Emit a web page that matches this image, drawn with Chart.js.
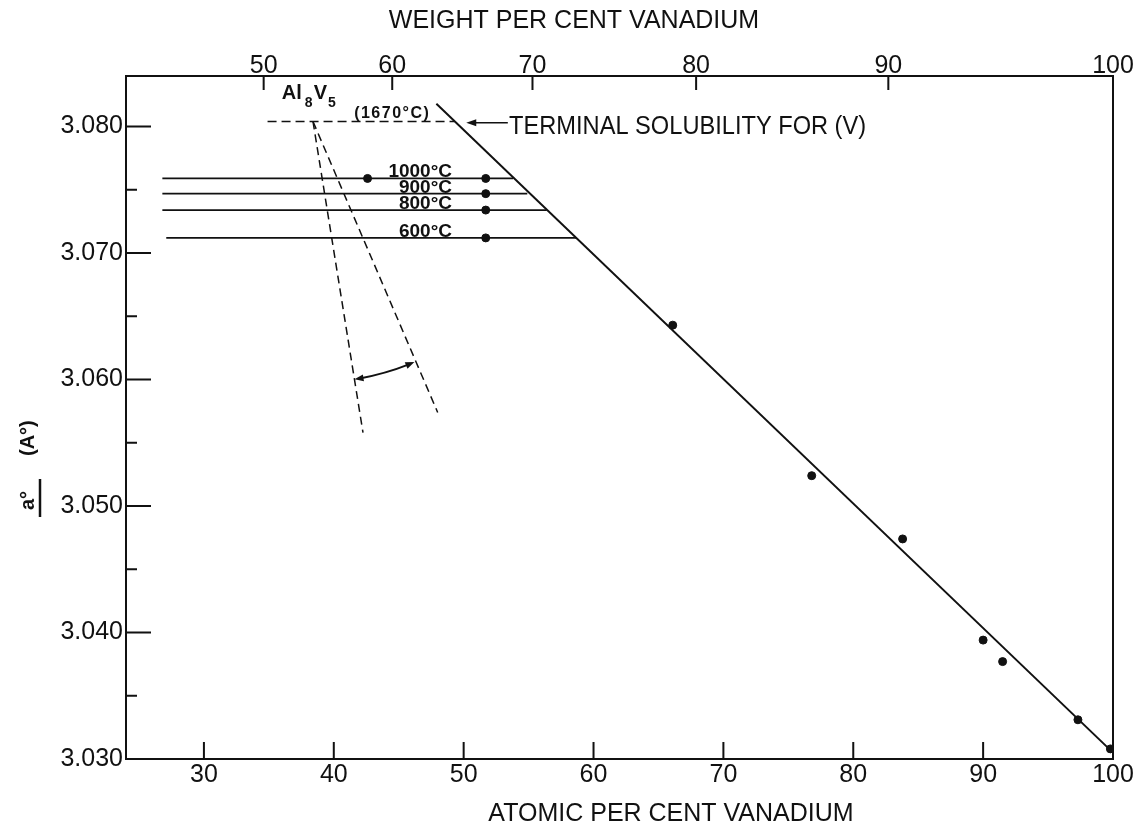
<!DOCTYPE html>
<html>
<head>
<meta charset="utf-8">
<script src="https://cdn.jsdelivr.net/npm/chart.js@4.4.1/dist/chart.umd.min.js"></script>
<style>
  html, body { margin: 0; padding: 0; background: #fff; }
  canvas { display: block; }
</style>
</head>
<body>
<canvas id="latticeChart" width="1134" height="831"></canvas>
<script>
// axes
const atomicTicks = [30, 40, 50, 60, 70, 80, 90, 100];
const weightTicks = [50, 60, 70, 80, 90, 100];
const weightTickAtomic = [34.6, 44.5, 55.3, 67.9, 82.7, 100]; // where each wt.% tick sits on the at.% scale
const latticeTicks = [3.030, 3.035, 3.040, 3.045, 3.050, 3.055, 3.060, 3.065, 3.070, 3.075, 3.080];

// measured lattice parameters
const measuredAtomic = [66.1, 76.8, 83.8, 90.0, 91.5, 97.3, 99.8];
const measuredLattice = [3.0643, 3.0524, 3.0474, 3.0394, 3.0377, 3.0331, 3.0308];

// fitted line
const fitAtomic = [47.9, 99.8];
const fitLattice = [3.0818, 3.0307];

// isotherms
const isoLabels = ["1000°C", "900°C", "800°C", "600°C"];
const isoLattice = [3.0759, 3.0747, 3.0734, 3.0712];
const isoStart = [26.8, 26.8, 26.8, 27.1];
const isoEnd = [53.8, 54.9, 56.4, 58.7];
const isoPoints = [[42.6, 51.7], [51.7], [51.7], [51.7]];

// 1670°C solubility and Al8V5 construction
const solidusLattice = 3.0804;
const solidusAtomic = [34.9, 49.3];
const al8v5Apex = [38.4, 3.0804];
const al8v5Ends = [[42.25, 3.0558], [48.0, 3.0574]];
const al8v5Arc = [[41.6, 3.0600], [46.2, 3.0614]];

const ink = "#111";
const fontFam = "'Liberation Sans', Arial, sans-serif";
const isMajor = v => Math.round(v * 1000) % 10 === 0;
const pts = (xs, ys) => xs.map((x, i) => ({ x: x, y: ys[i] }));

const datasets = [];
datasets.push({
  data: pts(fitAtomic, fitLattice),
  showLine: true, pointRadius: 0, borderColor: ink, borderWidth: 2
});
datasets.push({
  data: pts(measuredAtomic, measuredLattice),
  pointRadius: 4, pointBackgroundColor: ink, pointBorderColor: ink, showLine: false
});
isoLattice.forEach((y, i) => {
  datasets.push({
    data: [{ x: isoStart[i], y: y }, { x: isoEnd[i], y: y }],
    showLine: true, pointRadius: 0, borderColor: ink, borderWidth: 1.8
  });
  datasets.push({
    data: isoPoints[i].map(x => ({ x: x, y: y })),
    pointRadius: 4, pointBackgroundColor: ink, pointBorderColor: ink, showLine: false
  });
});
datasets.push({
  data: solidusAtomic.map(x => ({ x: x, y: solidusLattice })),
  showLine: true, pointRadius: 0, borderColor: ink, borderWidth: 1.5, borderDash: [9, 5]
});
al8v5Ends.forEach(e => {
  datasets.push({
    data: [{ x: al8v5Apex[0], y: al8v5Apex[1] }, { x: e[0], y: e[1] }],
    showLine: true, pointRadius: 0, borderColor: ink, borderWidth: 1.5, borderDash: [8, 5]
  });
});
datasets.forEach(d => { d.xAxisID = "x"; d.yAxisID = "y"; });

function arrowHead(ctx, tx, ty, dx, dy, len, half) {
  const n = Math.hypot(dx, dy); dx /= n; dy /= n;
  ctx.beginPath();
  ctx.moveTo(tx, ty);
  ctx.lineTo(tx - dx * len - dy * half, ty - dy * len + dx * half);
  ctx.lineTo(tx - dx * len + dy * half, ty - dy * len - dx * half);
  ctx.closePath();
  ctx.fill();
}

const frameAndNotes = {
  id: "frameAndNotes",
  afterDatasetsDraw(chart) {
    const { ctx, chartArea: a, scales } = chart;
    const P = (x, y) => [scales.x.getPixelForValue(x), scales.y.getPixelForValue(y)];
    ctx.save();
    ctx.strokeStyle = ink; ctx.fillStyle = ink;

    // frame
    ctx.lineWidth = 2;
    ctx.strokeRect(a.left, a.top, a.right - a.left, a.bottom - a.top);

    // inward tick marks
    ctx.beginPath();
    scales.y.ticks.forEach(t => {
      const yy = scales.y.getPixelForValue(t.value);
      ctx.moveTo(a.left, yy); ctx.lineTo(a.left + (isMajor(t.value) ? 25 : 11), yy);
    });
    scales.x.ticks.forEach(t => {
      const xx = scales.x.getPixelForValue(t.value);
      ctx.moveTo(xx, a.bottom); ctx.lineTo(xx, a.bottom - 17);
    });
    scales.x2.ticks.forEach(t => {
      const xx = scales.x2.getPixelForValue(t.value);
      ctx.moveTo(xx, a.top); ctx.lineTo(xx, a.top + 14);
    });
    ctx.stroke();

    // terminal solubility arrow
    const [t0x, t0y] = P(53.4, 3.0803);
    const [t1x, t1y] = P(50.2, 3.0803);
    ctx.lineWidth = 1.5;
    ctx.beginPath(); ctx.moveTo(t0x, t0y); ctx.lineTo(t1x + 6, t1y); ctx.stroke();
    arrowHead(ctx, t1x, t1y, t1x - t0x, 0, 10, 3.5);

    // angle arc between the two Al8V5 lines
    const [cx, cy] = P(al8v5Apex[0], al8v5Apex[1]);
    const [p1x, p1y] = P(al8v5Arc[0][0], al8v5Arc[0][1]);
    const [p2x, p2y] = P(al8v5Arc[1][0], al8v5Arc[1][1]);
    const r = (Math.hypot(p1x - cx, p1y - cy) + Math.hypot(p2x - cx, p2y - cy)) / 2;
    const a1 = Math.atan2(p1y - cy, p1x - cx);
    const a2 = Math.atan2(p2y - cy, p2x - cx);
    ctx.lineWidth = 2;
    ctx.beginPath(); ctx.arc(cx, cy, r, a2 + 0.02, a1 - 0.02, false); ctx.stroke();
    arrowHead(ctx, cx + r * Math.cos(a1), cy + r * Math.sin(a1), -Math.sin(a1), Math.cos(a1), 9, 3.5);
    arrowHead(ctx, cx + r * Math.cos(a2), cy + r * Math.sin(a2), Math.sin(a2), -Math.cos(a2), 9, 3.5);

    // isotherm labels
    ctx.font = "bold 19px " + fontFam;
    ctx.textAlign = "right"; ctx.textBaseline = "alphabetic";
    isoLabels.forEach((lab, i) => {
      const [lx, ly] = P(49.1, isoLattice[i]);
      ctx.fillText(lab, lx, ly - 1, 64);
    });

    // (1670°C)
    ctx.textAlign = "center";
    ctx.font = "bold 16px " + fontFam;
    if ("letterSpacing" in ctx) ctx.letterSpacing = "1.5px";
    const [mx, my] = P(44.5, 3.0807);
    ctx.fillText("(1670°C)", mx, my, 80);
    if ("letterSpacing" in ctx) ctx.letterSpacing = "0px";

    // TERMINAL SOLUBILITY FOR (V)
    ctx.textAlign = "left";
    ctx.font = "25px " + fontFam;
    const [sx, sy] = P(53.5, 3.0794);
    ctx.fillText("TERMINAL SOLUBILITY FOR (V)", sx, sy, 357);

    // Al8V5
    let [ax, ay] = P(36.0, 3.0822);
    const parts = [["Al", 20, 0], ["8", 14, 8], ["V", 20, 0], ["5", 14, 8]];
    parts.forEach(([s, size, drop], i) => {
      ctx.font = "bold " + size + "px " + fontFam;
      ctx.fillText(s, ax, ay + drop);
      ax += ctx.measureText(s).width + (i === 0 ? 3 : 1);
    });

    ctx.restore();
  },
  afterDraw(chart) {
    const { ctx, chartArea: a } = chart;
    ctx.save();
    ctx.fillStyle = ink;
    ctx.font = "25px " + fontFam;
    ctx.textAlign = "center"; ctx.textBaseline = "alphabetic";
    ctx.fillText("WEIGHT PER CENT VANADIUM", 574, 28, 378);
    ctx.fillText("ATOMIC PER CENT VANADIUM", 671, 821, 377);

    // y title: a° (A°), rotated
    ctx.translate(33, 465);
    ctx.rotate(-Math.PI / 2);
    ctx.font = "bold 20px " + fontFam;
    ctx.textAlign = "left";
    ctx.fillText("a°", -45, 1);
    ctx.fillText("(A°)", 9, 1);
    ctx.strokeStyle = ink; ctx.lineWidth = 2.5;
    ctx.beginPath(); ctx.moveTo(-52, 7); ctx.lineTo(-14, 7); ctx.stroke();
    ctx.restore();
  }
};

const tickFont = { family: fontFam, size: 25, lineHeight: 1 };
const noGrid = { display: false, drawTicks: false };

new Chart(document.getElementById("latticeChart"), {
  type: "scatter",
  data: { datasets: datasets },
  options: {
    responsive: false,
    animation: false,
    events: [],
    layout: { padding: { left: 0, right: 21, top: 0, bottom: 0 } },
    plugins: { legend: { display: false }, tooltip: { enabled: false } },
    scales: {
      x: {
        type: "linear", position: "bottom", min: 24, max: 100,
        grid: noGrid, border: { display: false },
        afterBuildTicks: s => { s.ticks = atomicTicks.map(v => ({ value: v })); },
        ticks: { font: tickFont, color: ink, padding: 4, autoSkip: false, maxRotation: 0 },
        afterFit: s => { s.height = 72; s.paddingLeft = 0; s.paddingRight = 0; }
      },
      x2: {
        type: "linear", axis: "x", position: "top", min: 24, max: 100,
        grid: noGrid, border: { display: false },
        afterBuildTicks: s => { s.ticks = weightTickAtomic.map(v => ({ value: v })); },
        ticks: {
          font: tickFont, color: ink, padding: -3, autoSkip: false, maxRotation: 0,
          callback: (v, i) => String(weightTicks[i])
        },
        afterFit: s => { s.height = 76; s.paddingLeft = 0; s.paddingRight = 0; }
      },
      y: {
        type: "linear", position: "left", min: 3.030, max: 3.084,
        grid: noGrid, border: { display: false },
        afterBuildTicks: s => { s.ticks = latticeTicks.map(v => ({ value: v })); },
        ticks: {
          font: tickFont, color: ink, padding: 3, autoSkip: false,
          callback: v => (isMajor(v) ? v.toFixed(3) : "")
        },
        afterFit: s => { s.width = 126; s.paddingTop = 0; s.paddingBottom = 0; }
      }
    }
  },
  plugins: [frameAndNotes]
});
</script>
</body>
</html>
